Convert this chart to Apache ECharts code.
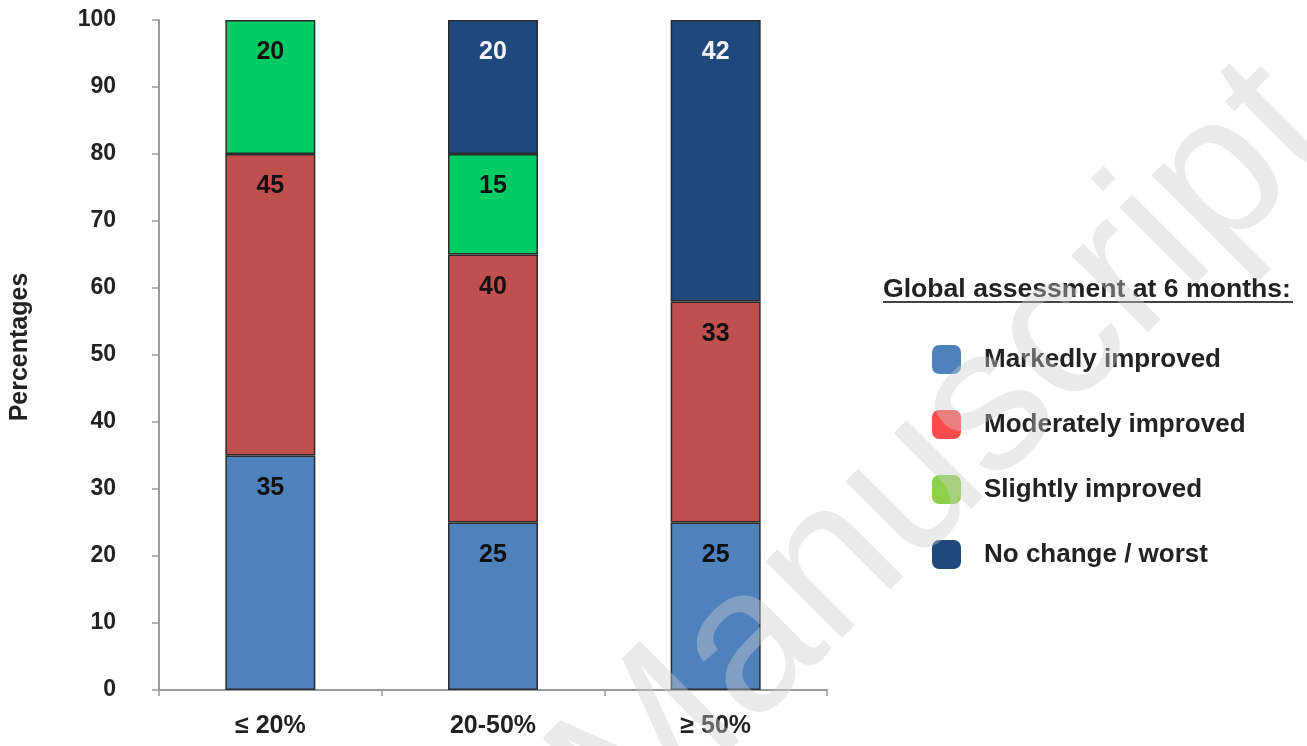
<!DOCTYPE html>
<html>
<head>
<meta charset="utf-8">
<script src="https://cdn.jsdelivr.net/npm/echarts@6/dist/echarts.min.js"></script>
<style>
html,body{margin:0;padding:0;background:#fff;}
#chart{width:1307px;height:746px;}
</style>
</head>
<body>
<div id="chart"></div>
<script>
var categories = ['≤ 20%', '20-50%', '≥ 50%'];
var seriesNames = ['Markedly improved', 'Moderately improved', 'Slightly improved', 'No change / worst'];
var markedly = [35, 25, 25];
var moderately = [45, 40, 33];
var slightly = [20, 15, '-'];
var noChange = ['-', 20, 42];
var yTicks = [0, 10, 20, 30, 40, 50, 60, 70, 80, 90, 100];
var legendTitle = 'Global assessment at 6 months:';
var yName = 'Percentages';
var watermark = 'Manuscript';

var FONT = '"Liberation Sans", Arial, sans-serif';
var barColors = ['#4F81BD', '#C0504D', '#00CC66', '#1F497D'];
var legendColors = ['#4F81BD', '#FF4B4B', '#8DD04A', '#1F497D'];
var labelColors = ['#111', '#111', '#111', '#f4f4f4'];
var allData = [markedly, moderately, slightly, noChange];

var chart = echarts.init(document.getElementById('chart'));

var series = seriesNames.map(function (name, i) {
  return {
    name: name,
    type: 'bar',
    stack: 'total',
    barWidth: 90,
    data: allData[i],
    itemStyle: { color: barColors[i], borderColor: '#2b2b2b', borderWidth: 1.5 },
    label: {
      show: true,
      position: 'insideTop',
      distance: 20,
      color: labelColors[i],
      fontFamily: FONT,
      fontWeight: 'bold',
      fontSize: 25
    },
    emphasis: { disabled: true }
  };
});

chart.setOption({
  animation: false,
  backgroundColor: '#fff',
  grid: { left: 158, right: 480, top: 20, bottom: 56, containLabel: false },
  xAxis: {
    type: 'category',
    data: categories,
    axisLine: { lineStyle: { color: '#9a9a9a', width: 2 } },
    axisTick: { show: true, length: 6, inside: false, lineStyle: { color: '#9a9a9a', width: 1.5 } },
    axisLabel: { margin: 24, color: '#222', fontFamily: FONT, fontWeight: 'bold', fontSize: 25 }
  },
  yAxis: {
    type: 'value',
    min: yTicks[0],
    max: yTicks[yTicks.length - 1],
    interval: yTicks[1] - yTicks[0],
    name: yName,
    nameLocation: 'middle',
    nameGap: 126,
    nameTextStyle: { color: '#222', fontFamily: FONT, fontWeight: 'bold', fontSize: 25, padding: [0, 0, 0, 16] },
    axisLine: { show: true, lineStyle: { color: '#9a9a9a', width: 2 } },
    axisTick: { show: true, length: 7, inside: false, lineStyle: { color: '#9a9a9a', width: 1.5 } },
    splitLine: { show: false },
    axisLabel: { margin: 43, color: '#222', fontFamily: FONT, fontWeight: 'bold', fontSize: 23 }
  },
  legend: {
    orient: 'vertical',
    left: 927,
    top: 340,
    itemWidth: 29,
    itemHeight: 29,
    itemGap: 36,
    icon: 'roundRect',
    selectedMode: false,
    textStyle: { color: '#222', fontFamily: FONT, fontWeight: 'bold', fontSize: 26, padding: [0, 0, 0, 18] },
    data: seriesNames.map(function (n, i) {
      return { name: n, itemStyle: { color: legendColors[i], borderWidth: 0 } };
    })
  },
  graphic: [
    {
      type: 'text',
      left: 883,
      top: 276,
      style: { text: legendTitle, fill: '#222', font: 'bold 26.6px ' + FONT }
    },
    {
      type: 'line',
      shape: { x1: 883, y1: 302, x2: 1293, y2: 302 },
      style: { stroke: '#444', lineWidth: 2 }
    },
    {
      type: 'text',
      x: 945,
      y: 455,
      rotation: Math.PI / 4,
      z: 100,
      silent: true,
      style: {
        text: watermark,
        fill: 'rgba(205,205,205,0.4)',
        font: '205px ' + FONT,
        textAlign: 'center',
        textVerticalAlign: 'middle'
      }
    }
  ],
  series: series
});
</script>
</body>
</html>
